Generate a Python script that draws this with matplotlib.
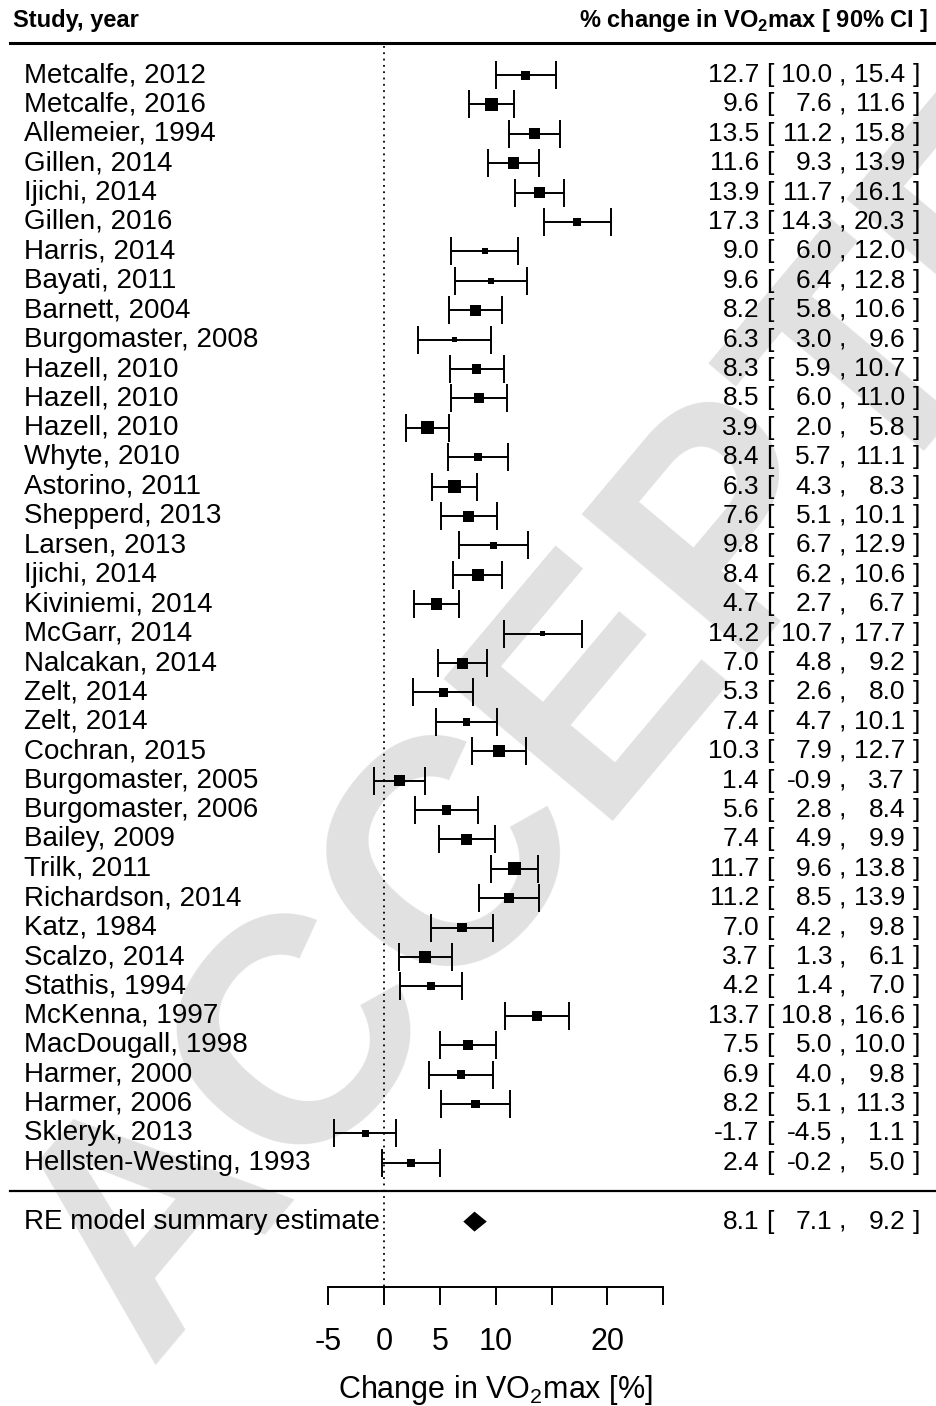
import matplotlib
matplotlib.use("Agg")
import matplotlib.pyplot as plt

# ---- data ----
studies = ["Metcalfe, 2012", "Metcalfe, 2016", "Allemeier, 1994", "Gillen, 2014",
           "Ijichi, 2014", "Gillen, 2016", "Harris, 2014", "Bayati, 2011",
           "Barnett, 2004", "Burgomaster, 2008", "Hazell, 2010", "Hazell, 2010",
           "Hazell, 2010", "Whyte, 2010", "Astorino, 2011", "Shepperd, 2013",
           "Larsen, 2013", "Ijichi, 2014", "Kiviniemi, 2014", "McGarr, 2014",
           "Nalcakan, 2014", "Zelt, 2014", "Zelt, 2014", "Cochran, 2015",
           "Burgomaster, 2005", "Burgomaster, 2006", "Bailey, 2009", "Trilk, 2011",
           "Richardson, 2014", "Katz, 1984", "Scalzo, 2014", "Stathis, 1994",
           "McKenna, 1997", "MacDougall, 1998", "Harmer, 2000", "Harmer, 2006",
           "Skleryk, 2013", "Hellsten-Westing, 1993"]
est = [12.7, 9.6, 13.5, 11.6, 13.9, 17.3, 9.0, 9.6, 8.2, 6.3, 8.3, 8.5, 3.9, 8.4,
       6.3, 7.6, 9.8, 8.4, 4.7, 14.2, 7.0, 5.3, 7.4, 10.3, 1.4, 5.6, 7.4, 11.7,
       11.2, 7.0, 3.7, 4.2, 13.7, 7.5, 6.9, 8.2, -1.7, 2.4]
lower = [10.0, 7.6, 11.2, 9.3, 11.7, 14.3, 6.0, 6.4, 5.8, 3.0, 5.9, 6.0, 2.0, 5.7,
         4.3, 5.1, 6.7, 6.2, 2.7, 10.7, 4.8, 2.6, 4.7, 7.9, -0.9, 2.8, 4.9, 9.6,
         8.5, 4.2, 1.3, 1.4, 10.8, 5.0, 4.0, 5.1, -4.5, -0.2]
upper = [15.4, 11.6, 15.8, 13.9, 16.1, 20.3, 12.0, 12.8, 10.6, 9.6, 10.7, 11.0, 5.8,
         11.1, 8.3, 10.1, 12.9, 10.6, 6.7, 17.7, 9.2, 8.0, 10.1, 12.7, 3.7, 8.4,
         9.9, 13.8, 13.9, 9.8, 6.1, 7.0, 16.6, 10.0, 9.8, 11.3, 1.1, 5.0]
# relative study weights (box size)
weights = [9, 13, 11, 11.5, 11, 8, 6, 6.5, 11, 5.5, 9.5, 10, 13, 7.5, 13, 11, 7,
           11.5, 11.5, 4.5, 11, 9, 7.5, 11.5, 11.5, 9.5, 11.5, 13, 9.5, 9.5, 12,
           8, 9.5, 10, 8.5, 8.5, 7, 8]
summary = (8.1, 7.1, 9.2)
ticks = [-5, 0, 5, 10, 15, 20, 25]
tick_labels = ["-5", "0", "5", "10", "", "20", ""]

base = "Liberation Sans"
plt.rcParams["font.family"] = [base, "DejaVu Sans"]
plt.rcParams["mathtext.fontset"] = "custom"
plt.rcParams["mathtext.rm"] = base
plt.rcParams["mathtext.bf"] = base + ":bold"

W, H, DPI = 936, 1406, 100
fig = plt.figure(figsize=(W / DPI, H / DPI), dpi=DPI)
ax = fig.add_axes([0, 0, 1, 1])

# pixel -> data mapping: 0 at x=384, 11.17 px per % ; rows start at y=75, 29.4 px apart
px_unit, x0_px = 11.17, 384
row_h, y0_px = 29.4, 75
ax.set_xlim(-x0_px / px_unit, (W - x0_px) / px_unit)
ax.set_ylim((H - y0_px) / row_h, -y0_px / row_h)
ax.axis("off")


def rowy(py):
    return (py - y0_px) / row_h


n = len(studies)
rows = list(range(n))
sum_row = n + 1

# ---- watermark ----
ax.text(0.70, 0.55, "ACCEPTED", transform=fig.transFigure, fontsize=232,
        fontweight="bold", color="#e1e1e1", rotation=50, ha="center", va="center",
        rotation_mode="anchor", zorder=0)

# ---- header ----
ytr = ax.get_yaxis_transform()
ax.text(13 / W, rowy(20), "Study, year", transform=ytr, ha="left", va="center",
        fontsize=17, fontweight="bold")
ax.text(928 / W, rowy(20), r"% change in VO$_\mathbf{2}$max [ 90% CI ]", transform=ytr,
        ha="right", va="center", fontsize=17, fontweight="bold")
ax.plot([10 / W, 1], [rowy(43)] * 2, transform=ytr, color="black", lw=2.2)
ax.plot([10 / W, 1], [rowy(1191)] * 2, transform=ytr, color="black", lw=1.6)

# ---- reference line ----
ax.vlines(0, rowy(46), rowy(1287), colors="black", linestyles=(0, (1, 2.5)), lw=1.3)

# ---- studies ----
ax.errorbar(est, rows, xerr=[[e - l for e, l in zip(est, lower)],
                             [u - e for e, u in zip(est, upper)]],
            fmt="none", ecolor="black", elinewidth=1.4, capsize=10, capthick=1.4, zorder=3)
ax.scatter(est, rows, marker="s", s=[(w * 0.72) ** 2 for w in weights],
           color="black", linewidths=0, zorder=4)

fs_left, fs = 20, 19
for i in rows:
    ax.text(24 / W, i, studies[i], transform=ytr, ha="left", va="center", fontsize=fs_left)

# ---- summary diamond ----
m, lo, hi = summary
dh = 10 / row_h
ax.fill([lo, m, hi, m], [sum_row, sum_row - dh, sum_row, sum_row + dh], color="black",
        lw=0, zorder=4)
ax.text(24 / W, sum_row, "RE model summary estimate", transform=ytr, ha="left",
        va="center", fontsize=fs_left)

# ---- right columns ----
all_rows = rows + [sum_row]
all_est = est + [m]
all_lo = lower + [lo]
all_hi = upper + [hi]
for r, e, l, u in zip(all_rows, all_est, all_lo, all_hi):
    ax.text(759 / W, r, f"{e:.1f}", transform=ytr, ha="right", va="center", fontsize=fs)
    ax.text(766 / W, r, "[", transform=ytr, ha="left", va="center", fontsize=fs)
    ax.text(832 / W, r, f"{l:.1f}", transform=ytr, ha="right", va="center", fontsize=fs)
    ax.text(839 / W, r, ",", transform=ytr, ha="left", va="center", fontsize=fs)
    ax.text(905 / W, r, f"{u:.1f}", transform=ytr, ha="right", va="center", fontsize=fs)
    ax.text(913 / W, r, "]", transform=ytr, ha="left", va="center", fontsize=fs)

# ---- x axis ----
ax2 = fig.add_axes([0, 1 - 1287 / H, 1, 0.0005])
ax2.set_xlim(ax.get_xlim())
ax2.patch.set_visible(False)
for s in ["top", "left", "right"]:
    ax2.spines[s].set_visible(False)
ax2.spines["bottom"].set_bounds(-5, 25)
ax2.spines["bottom"].set_linewidth(1.4)
ax2.set_yticks([])
ax2.set_xticks(ticks)
ax2.set_xticklabels(tick_labels, fontsize=22)
ax2.tick_params(axis="x", direction="out", length=13, width=1.4, pad=16)
ax.text(10, rowy(1390), r"Change in VO$_2$max [%]", ha="center", va="center", fontsize=22)

fig.savefig("out.png", dpi=DPI)
